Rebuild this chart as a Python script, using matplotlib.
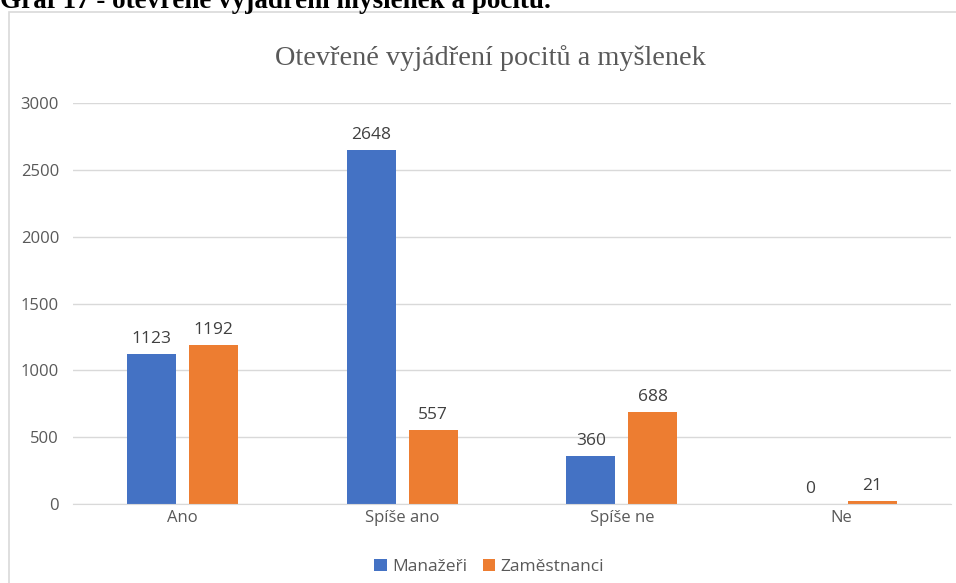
import matplotlib
matplotlib.use("Agg")
import matplotlib.pyplot as plt
import numpy as np
from matplotlib.patches import Rectangle

categories = ["Ano", "Spíše ano", "Spíše ne", "Ne"]
manazeri = [1123, 2648, 360, 0]
zamestnanci = [1192, 557, 688, 21]
series_names = ["Manažeři", "Zaměstnanci"]
yticks = [0, 500, 1000, 1500, 2000, 2500, 3000]

BLUE = "#4472C4"
ORANGE = "#ED7D31"
GRID = "#D9D9D9"
TXT = "#595959"

plt.rcParams['font.family'] = ['Open Sans', 'DejaVu Sans']

fig = plt.figure(figsize=(9.56, 5.83), dpi=100)
W, H = 956, 583

# chart frame
fig.patches.append(Rectangle((9 / W, -0.05), 1.0, 1 - 12 / H + 0.05, transform=fig.transFigure,
                             fill=False, edgecolor=GRID, linewidth=1.2))

# document heading (cropped at top)
fig.text(0.0, 1 - 8.5 / H, "Graf 17 - otevřené vyjádření myšlenek a pocitů.",
         family="Liberation Serif", fontweight="bold", fontsize=19.5, color="black",
         ha="left", va="baseline")

ax = fig.add_axes([73 / W, 1 - 504 / H, (951 - 73) / W, (504 - 103) / H])
x = np.arange(len(categories))
w = 0.223
off = 0.141
b1 = ax.bar(x - off, manazeri, w, color=BLUE, label=series_names[0], zorder=3)
b2 = ax.bar(x + off, zamestnanci, w, color=ORANGE, label=series_names[1], zorder=3)

for bars, vals in ((b1, manazeri), (b2, zamestnanci)):
    for r, v in zip(bars, vals):
        ax.annotate(str(v), (r.get_x() + r.get_width() / 2, v), xytext=(0, 5),
                    textcoords="offset points", ha="center", va="bottom",
                    fontsize=12.5, color="#404040")

ax.set_xlim(-0.5, len(categories) - 0.5)
ax.set_ylim(0, 3000)
ax.set_yticks(yticks)
ax.set_xticks(x)
ax.set_xticklabels(categories)
ax.tick_params(axis="both", length=0, labelsize=12, labelcolor=TXT)
ax.tick_params(axis="y", pad=10)
ax.tick_params(axis="x", pad=4)
ax.yaxis.grid(True, color=GRID, linewidth=1, zorder=0)
for s in ("top", "right", "left"):
    ax.spines[s].set_visible(False)
ax.spines["bottom"].set_color(GRID)
ax.spines["bottom"].set_zorder(4)

fig.text(490 / W, 1 - 58 / H, "Otevřené vyjádření pocitů a myšlenek",
         family="Liberation Serif", fontsize=20.3, color=TXT, ha="center", va="center")

fig.legend(handles=[b1, b2], labels=series_names, loc="center",
           bbox_to_anchor=(489 / W, 1 - 567 / H), ncol=2, frameon=False,
           fontsize=12.5, handlelength=0.7, handleheight=0.7, handletextpad=0.3,
           columnspacing=0.9, labelcolor=TXT)

fig.savefig("out.png", dpi=100)
